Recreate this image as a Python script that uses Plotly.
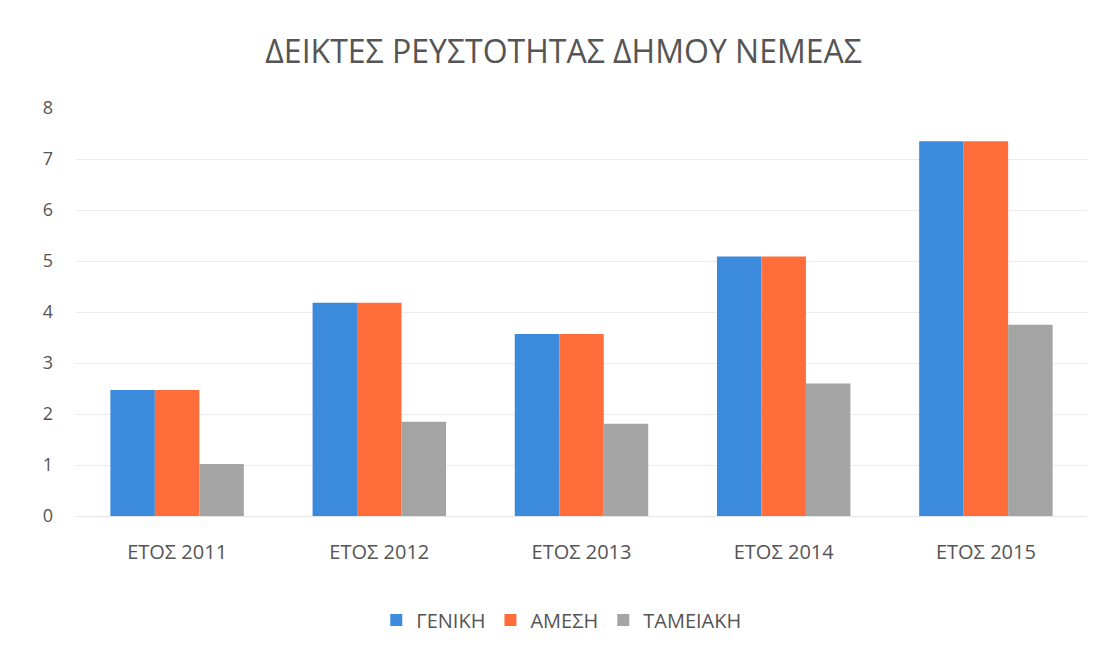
import plotly.graph_objects as go

categories = ["ΕΤΟΣ 2011", "ΕΤΟΣ 2012", "ΕΤΟΣ 2013", "ΕΤΟΣ 2014", "ΕΤΟΣ 2015"]
geniki = [2.47, 4.18, 3.57, 5.09, 7.35]
amesi = [2.47, 4.18, 3.57, 5.09, 7.35]
tameiaki = [1.02, 1.85, 1.81, 2.60, 3.75]
series_names = ["ΓΕΝΙΚΗ", "ΑΜΕΣΗ", "ΤΑΜΕΙΑΚΗ"]
colors = ["#3B8ADB", "#FF6D3A", "#A4A4A4"]

fig = go.Figure()
for name, vals, col in zip(series_names, [geniki, amesi, tameiaki], colors):
    fig.add_trace(go.Bar(x=categories, y=vals, name=name, marker_color=col,
                         marker_line_width=0))

font_family = "Open Sans, DejaVu Sans, sans-serif"
fig.update_layout(
    width=1109, height=652,
    paper_bgcolor="white", plot_bgcolor="white",
    barmode="group", bargap=0.34, bargroupgap=0,
    margin=dict(l=68, r=30, t=100, b=144),
    title=dict(text="ΔΕΙΚΤΕΣ ΡΕΥΣΤΟΤΗΤΑΣ ΔΗΜΟΥ ΝΕΜΕΑΣ", x=0.501, xanchor="center",
               y=0.9325, yanchor="middle",
               font=dict(family=font_family, size=32, color="#555555")),
    font=dict(family=font_family, color="#555555"),
    legend=dict(orientation="h", x=0.48, xanchor="center", y=-0.255, yanchor="middle",
                font=dict(size=20, color="#555555"), itemwidth=30,
                traceorder="normal"),
    xaxis=dict(showgrid=False, showline=True, linecolor="#E6E6E6", linewidth=1,
               ticks="", ticklabelstandoff=18, tickfont=dict(size=20, color="#555555")),
    yaxis=dict(range=[0, 8], dtick=1, showgrid=True, gridcolor="#EBEBEB",
               zeroline=False, ticks="", ticklabelstandoff=22,
               tickfont=dict(size=18, color="#555555")),
)
fig.write_html("out.html")
